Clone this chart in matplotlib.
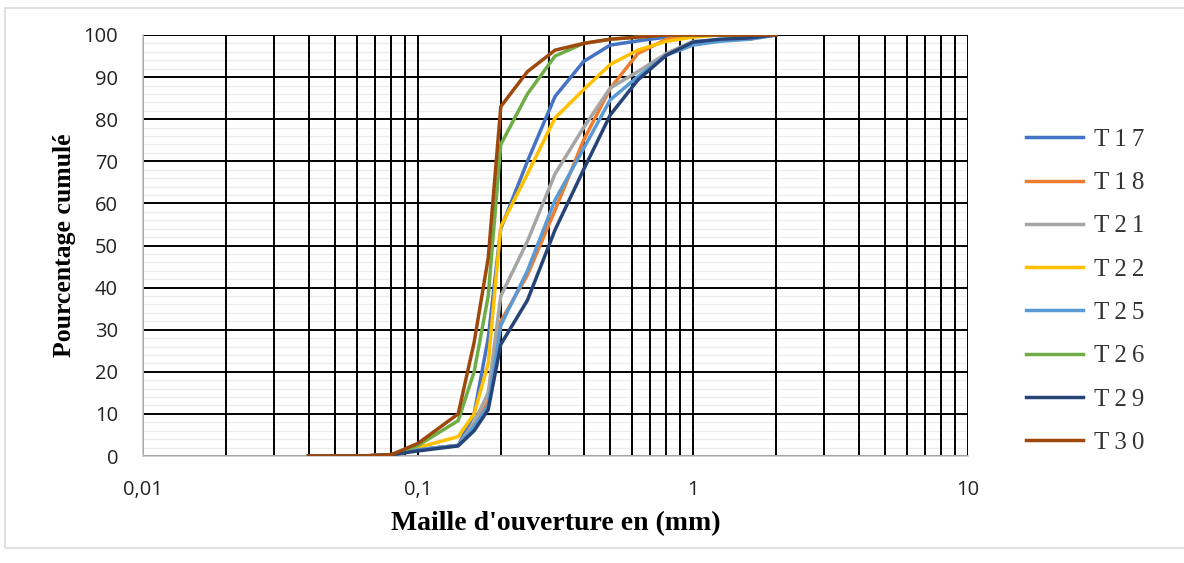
import matplotlib
matplotlib.use("Agg")
import matplotlib.pyplot as plt
from matplotlib.ticker import FixedLocator, FixedFormatter, MultipleLocator, NullFormatter
from matplotlib.patches import Rectangle

# sieve openings (mm)
sizes = [0.04, 0.063, 0.08, 0.1, 0.14, 0.16, 0.18, 0.2, 0.25, 0.315,
         0.4, 0.5, 0.63, 0.8, 1, 1.25, 1.6, 2]

# cumulative passing (%)
t17 = [0, 0, 0.3, 1.5, 2.5, 10, 28, 54, 70, 85.4, 93.7, 97.6, 98.6, 99.5, 100, 100, 100, 100]
t18 = [0, 0, 0.3, 1.5, 2.5, 7, 13, 32, 43, 58.4, 75, 87.3, 95.6, 99, 100, 100, 100, 100]
t21 = [0, 0, 0.3, 1.5, 2.5, 8, 15, 38, 51, 67, 78, 87.4, 91.3, 95.6, 98.5, 98.8, 99, 100]
t22 = [0, 0, 0.3, 2, 4.6, 10, 22, 54.5, 67, 80.3, 87, 93, 96.4, 98.5, 99.5, 100, 100, 100]
t25 = [0, 0, 0.3, 1.5, 2.5, 7, 12, 31, 44, 60.8, 73, 84.6, 90.1, 95.2, 97.6, 98.5, 99, 100]
t26 = [0, 0, 0.3, 2.5, 8.4, 20, 38, 74, 86, 95, 98, 99, 99.5, 100, 100, 100, 100, 100]
t29 = [0, 0, 0.3, 1.2, 2.4, 6, 11, 26.5, 37, 53.7, 68, 81, 89.3, 95.2, 98.3, 99, 99.3, 100]
t30 = [0, 0, 0.3, 3, 10, 27, 47, 83, 91.3, 96.4, 98, 99, 99.5, 100, 100, 100, 100, 100]

labels = ["T17", "T18", "T21", "T22", "T25", "T26", "T29", "T30"]
series = [t17, t18, t21, t22, t25, t26, t29, t30]
colors = ["#4472c4", "#ed7d31", "#a5a5a5", "#ffc000",
          "#5b9bd5", "#70ad47", "#264478", "#9e480e"]

fig = plt.figure(figsize=(11.84, 5.63), dpi=100)
ax = fig.add_axes([143/1184, 1 - 456/563, (968-143)/1184, (456-35)/563])

# outer frame
fig.patches.append(Rectangle((5/1184, 1 - 548/563), 1, (548-8)/563,
                             transform=fig.transFigure, fill=False,
                             edgecolor="#d9d9d9", linewidth=1.2))

for y, c, lab in zip(series, colors, labels):
    ax.plot(sizes, y, color=c, linewidth=2.5, label=lab, zorder=3)

ax.set_xscale("log")
ax.set_xlim(0.01, 10)
ax.set_ylim(0, 100)

ax.xaxis.set_major_locator(FixedLocator([0.01, 0.1, 1, 10]))
ax.xaxis.set_major_formatter(FixedFormatter(["0,01", "0,1", "1", "10"]))
minors = [m * d for d in [0.01, 0.1, 1] for m in range(2, 10)]
ax.xaxis.set_minor_locator(FixedLocator(minors))
ax.xaxis.set_minor_formatter(NullFormatter())
ax.yaxis.set_major_locator(MultipleLocator(10))

# faint minor horizontal lines every 2 %, kept under the black grid
ax.hlines([v for v in range(2, 100, 2) if v % 10], 0.01, 10,
          color="#ececec", linewidth=0.9, zorder=0.1)

ax.grid(which="major", axis="both", color="black", linewidth=1.4)
ax.grid(which="minor", axis="x", color="black", linewidth=1.4)
ax.set_axisbelow(True)

for s in ["top", "right"]:
    ax.spines[s].set_visible(False)
for s in ["left", "bottom"]:
    ax.spines[s].set_color("#c8c8c8")
    ax.spines[s].set_linewidth(1.2)

ax.tick_params(which="both", length=0)
ax.tick_params(axis="both", labelsize=14.5, colors="#222222")
ax.tick_params(axis="y", pad=18)
ax.tick_params(axis="x", pad=17)
for t in ax.get_xticklabels() + ax.get_yticklabels():
    t.set_fontfamily("Open Sans")

ax.set_xlabel("Maille d'ouverture en (mm)", fontfamily="Liberation Serif",
              fontweight="bold", fontsize=20, labelpad=8)
ax.set_ylabel("Pourcentage cumulé", fontfamily="Liberation Serif",
              fontweight="bold", fontsize=18.5, labelpad=5)

leg = fig.legend(loc="upper left", bbox_to_anchor=(1003/1184, 1 - 106/563),
                 frameon=False, handlelength=2.3, handletextpad=0.45,
                 labelspacing=0.83, prop={"family": "Liberation Serif", "size": 18})
for t in leg.get_texts():
    t.set_text("\u2009".join(t.get_text()))
    t.set_color("#333333")

fig.savefig("out.png", dpi=100, facecolor="white")
